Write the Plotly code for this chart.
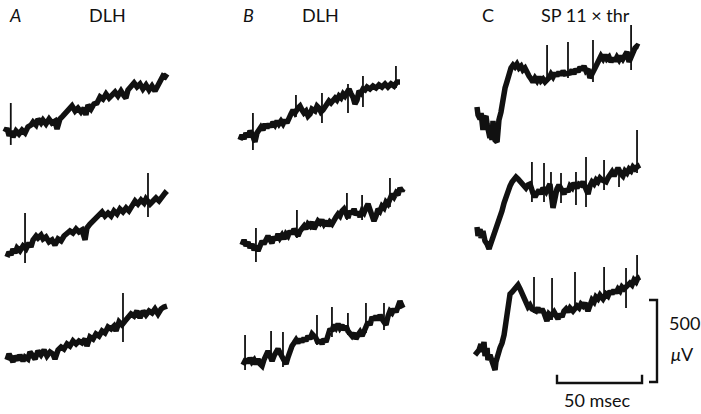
import plotly.graph_objects as go

# ---------------- data: time (ms from sweep start), potential (uV from sweep start level) ----------------
A1_t = [0, 1.2, 2.4, 3.5, 4.7, 6.5, 8.2, 10.0, 11.8, 13.5, 15.3, 16.5, 18.2, 19.4, 21.2, 22.3, 24.1, 25.9, 27.6, 29.4,
        30.6, 32.3, 34.1, 35.9, 37.6, 39.4, 41.2, 42.9, 44.7, 46.5, 47.6, 48.8, 50.6, 52.3, 54.1, 55.9, 57.6, 59.4, 61.2, 62.9,
        64.7, 66.4, 68.2, 70.0, 71.1, 72.3, 74.1, 75.9, 77.6, 79.4, 81.1, 82.9, 84.7, 86.4, 88.2, 90.0, 91.7, 92.9, 94.1, 95.3]
A1_v = [0, 24, -24, 6, -31, 6, -12, 12, -6, 31, 43, 61, 43, 79, 55, 73, 49, 79, 55, 67,
        18, 79, 98, 116, 134, 159, 128, 146, 122, 146, 104, 165, 140, 171, 177, 214, 201, 232, 207, 226,
        244, 220, 250, 220, 207, 256, 281, 299, 275, 293, 262, 287, 256, 281, 250, 293, 317, 342, 336, 354]
A1_spike_t = [3.4]
A1_spike_top = [177]
A1_spike_bot = [-79]

A2_t = [0, 1.2, 2.4, 3.5, 4.7, 5.9, 7.6, 9.4, 11.2, 12.9, 14.1, 15.3, 17.1, 18.2, 20.0, 21.2, 22.9, 24.7, 26.5, 28.2,
        30.0, 31.8, 33.5, 35.3, 37.0, 38.8, 40.6, 42.3, 44.1, 45.9, 47.0, 48.8, 50.6, 52.3, 54.1, 55.9, 57.6, 59.4, 61.2, 62.9,
        64.7, 66.4, 68.2, 70.0, 71.7, 73.5, 75.3, 77.0, 78.8, 80.6, 81.7, 84.1, 85.8, 87.6, 89.4, 91.1, 92.9, 94.1]
A2_v = [0, 31, 12, 49, 24, 55, 37, 67, 49, 85, 61, 104, 128, 116, 134, 110, 122, 92, 104, 73,
        110, 98, 128, 140, 159, 146, 171, 153, 165, 104, 177, 201, 220, 238, 262, 275, 250, 268, 250, 281,
        262, 293, 275, 299, 281, 311, 342, 323, 348, 329, 354, 323, 342, 360, 342, 372, 390, 378]
A2_spike_t = [10.6, 82.9]
A2_spike_top = [268, 512]
A2_spike_bot = [-37, 244]

A3_t = [0, 1.2, 2.4, 3.5, 4.7, 6.5, 7.6, 9.4, 10.6, 12.3, 13.5, 15.3, 16.5, 18.2, 20.0, 21.8, 23.5, 25.3, 27.0, 28.2,
        30.0, 31.8, 33.5, 35.3, 37.0, 38.8, 40.6, 42.3, 44.1, 45.9, 47.0, 48.8, 50.6, 52.3, 54.1, 55.9, 57.6, 59.4, 61.2, 62.9,
        64.1, 65.9, 67.6, 69.4, 71.1, 72.9, 74.7, 76.4, 78.2, 80.0, 81.7, 83.5, 85.3, 87.0, 88.8, 90.6, 92.3, 94.1]
A3_v = [0, 37, 12, -12, 24, 0, 31, -6, 18, 6, 49, 18, 6, 55, 31, 61, 24, 49, 37, 6,
        61, 79, 67, 98, 85, 116, 98, 116, 104, 128, 85, 140, 128, 159, 146, 177, 165, 201, 189, 207,
        177, 232, 214, 238, 256, 281, 268, 299, 256, 299, 275, 299, 287, 311, 281, 311, 323, 329]
A3_spike_t = [68.2]
A3_spike_top = [409]
A3_spike_bot = [110]

B1_t = [0, 1.2, 2.4, 3.5, 4.7, 5.9, 7.1, 8.8, 10.0, 11.2, 12.3, 13.5, 14.7, 15.9, 17.1, 18.2, 19.4, 20.6, 21.8, 22.9,
        24.1, 25.3, 26.5, 27.6, 28.8, 30.0, 31.2, 32.3, 34.1, 35.3, 36.5, 37.6, 38.8, 40.0, 41.2, 42.3, 44.1, 45.3, 46.5, 47.6,
        48.8, 50.0, 51.2, 52.3, 53.5, 54.7, 55.9, 57.0, 58.2, 59.4, 60.6, 61.7, 62.9, 64.1, 65.3, 66.4, 67.6, 68.8, 70.0, 71.1,
        72.3, 73.5, 74.7, 76.4, 78.2, 80.0, 81.7, 83.5, 85.3, 87.0, 88.8, 90.6, 92.3, 94.1]
B1_v = [0, 31, 6, 43, 18, 55, 37, -12, 43, 67, 79, 61, 98, 73, 98, 79, 110, 92, 116, 98,
        116, 98, 122, 104, 140, 159, 183, 165, 195, 207, 183, 165, 177, 146, 159, 189, 177, 207, 195, 171,
        183, 207, 220, 238, 226, 250, 256, 244, 268, 256, 281, 268, 299, 311, 281, 262, 220, 244, 299, 287,
        311, 305, 323, 311, 329, 317, 336, 323, 342, 323, 342, 329, 354, 354]
B1_spike_t = [7.6, 32.9, 48.2, 63.5, 72.3, 91.7]
B1_spike_top = [165, 275, 287, 342, 390, 451]
B1_spike_bot = [-61, 140, 104, 165, 201, 317]

B2_t = [0, 1.2, 2.4, 3.5, 4.7, 5.9, 7.1, 8.2, 9.4, 10.6, 11.8, 12.9, 14.1, 15.3, 16.5, 17.6, 18.8, 20.0, 21.2, 22.3,
        23.5, 24.7, 25.9, 27.0, 28.2, 29.4, 30.6, 31.8, 32.9, 34.1, 35.3, 36.5, 37.6, 38.8, 40.0, 41.2, 42.3, 43.5, 44.7, 45.9,
        47.0, 48.2, 49.4, 50.6, 51.7, 52.9, 54.1, 55.3, 56.5, 57.6, 58.8, 60.0, 61.2, 62.3, 63.5, 64.7, 65.9, 67.0, 68.2, 69.4,
        70.6, 71.7, 72.9, 74.1, 75.3, 76.4, 77.6, 78.8, 80.0, 81.1, 82.3, 83.5, 84.7, 85.8, 87.0, 88.2, 89.4, 90.6, 91.7, 92.9,
        94.1, 94.7]
B2_v = [0, 31, -6, 18, -18, 6, -31, -6, -37, 6, 24, 6, 43, 55, 31, 12, 49, 31, 67, 43,
        61, 37, 67, 55, 85, 67, 98, 73, 55, 85, 104, 116, 98, 128, 116, 140, 98, 116, 146, 134,
        153, 128, 146, 116, 140, 128, 159, 171, 189, 177, 207, 220, 195, 165, 207, 189, 220, 183, 201, 171,
        207, 195, 226, 250, 214, 189, 146, 177, 220, 207, 238, 226, 262, 250, 281, 311, 293, 317, 305, 348,
        329, 342]
B2_spike_t = [8.2, 32.3, 61.7, 70.6, 87.0]
B2_spike_top = [104, 214, 317, 305, 409]
B2_spike_bot = [-104, 43, 153, 153, 232]

B3_t = [0, 1.8, 2.9, 4.1, 5.3, 6.5, 7.6, 8.8, 10.0, 11.2, 12.3, 13.5, 14.7, 15.9, 17.1, 18.2, 19.4, 20.6, 21.8, 22.9,
        24.1, 25.3, 26.5, 27.6, 28.8, 30.0, 31.2, 32.3, 33.5, 34.7, 35.9, 37.0, 38.2, 39.4, 40.6, 41.7, 42.9, 44.1, 45.3, 46.5,
        47.6, 48.8, 50.0, 51.2, 52.3, 53.5, 54.7, 55.9, 57.0, 58.2, 59.4, 60.6, 61.7, 62.9, 64.1, 65.3, 66.4, 67.6, 68.8, 70.0,
        71.1, 72.3, 73.5, 74.7, 75.9, 77.0, 78.2, 79.4, 80.6, 81.7, 82.9, 84.1, 85.3, 86.4, 87.6, 88.8, 90.0, 91.1, 92.3, 93.5,
        94.1]
B3_v = [0, 37, 12, 43, 18, 31, 6, 37, 6, -6, 31, 61, 85, 55, 24, 55, 79, 98, 73, 49,
        18, 6, 49, 85, 116, 134, 153, 134, 159, 140, 165, 146, 177, 159, 189, 177, 165, 134, 153, 128,
        159, 140, 189, 220, 207, 244, 226, 250, 226, 244, 214, 238, 207, 195, 177, 195, 159, 183, 201, 177,
        207, 244, 262, 244, 293, 275, 299, 275, 305, 281, 256, 244, 299, 329, 317, 342, 323, 366, 390, 360,
        348]
B3_spike_t = [1.2, 16.5, 23.5, 43.5, 52.3, 61.7, 72.3, 82.9]
B3_spike_top = [183, 207, 201, 305, 354, 317, 378, 378]
B3_spike_bot = [-31, 18, -12, 122, 171, 183, 195, 214]

C1_t = [0, 0.6, 1.8, 2.4, 2.9, 3.5, 4.1, 5.3, 5.9, 6.5, 7.6, 8.2, 8.8, 9.4, 10.0, 10.6, 11.8, 12.3, 12.9, 14.1,
        15.3, 16.5, 17.6, 18.8, 20.0, 21.2, 22.3, 23.5, 24.7, 25.9, 27.0, 28.2, 29.4, 30.6, 31.8, 32.9, 34.1, 35.3, 36.5, 37.6,
        38.8, 40.0, 42.3, 43.5, 44.7, 45.9, 47.0, 48.2, 49.4, 50.6, 51.7, 54.7, 55.9, 57.0, 58.2, 59.4, 60.6, 61.7, 62.9, 64.1,
        65.3, 66.4, 69.4, 70.6, 71.7, 72.9, 74.1, 75.3, 76.4, 77.6, 78.8, 80.0, 81.1, 82.3, 83.5, 84.7, 85.8, 87.0, 88.2, 89.4,
        91.7, 92.9, 94.1, 95.3]
C1_v = [0, -49, -73, -37, -85, -140, -73, -55, -104, -159, -189, -128, -201, -85, -146, -201, -214, -140, -79, -31,
        73, 116, 153, 201, 238, 256, 244, 262, 238, 250, 226, 238, 207, 189, 171, 153, 177, 159, 183, 159,
        171, 153, 177, 201, 183, 207, 189, 214, 195, 220, 201, 207, 226, 201, 232, 214, 244, 226, 250, 220,
        232, 177, 238, 262, 287, 311, 293, 317, 293, 305, 275, 299, 281, 305, 287, 311, 293, 323, 336, 275,
        348, 360, 372, 366]
C1_spike_t = [41.2, 53.5, 68.2, 90.6]
C1_spike_top = [378, 397, 409, 500]
C1_spike_bot = [146, 177, 153, 226]

C2_t = [0, 0.6, 1.8, 2.4, 3.5, 4.7, 5.9, 7.1, 7.6, 8.8, 10.0, 11.2, 12.3, 13.5, 14.7, 15.9, 17.1, 18.2, 19.4, 20.6,
        21.8, 22.9, 24.1, 25.3, 26.5, 27.6, 28.8, 30.0, 31.2, 32.9, 34.1, 35.3, 36.5, 37.6, 38.8, 40.6, 41.7, 42.9, 44.7, 45.9,
        47.0, 48.2, 50.0, 51.2, 52.3, 53.5, 54.7, 55.9, 57.0, 58.8, 60.0, 61.2, 62.3, 65.3, 66.4, 67.6, 68.8, 70.0, 71.1, 72.3,
        73.5, 75.9, 77.0, 78.2, 79.4, 80.6, 81.7, 82.9, 84.7, 85.8, 87.0, 88.2, 89.4, 90.6, 91.7, 92.9, 94.7, 95.8]
C2_v = [0, -55, -12, -67, -24, -85, -104, -134, -116, -79, -55, -24, 6, 49, 98, 146, 189, 226, 250, 275,
        287, 305, 293, 281, 268, 256, 238, 256, 262, 207, 183, 207, 226, 201, 238, 214, 244, 262, 116, 195,
        232, 256, 226, 201, 232, 214, 250, 238, 268, 238, 262, 256, 275, 201, 250, 275, 262, 287, 275, 299,
        287, 275, 299, 317, 336, 311, 342, 360, 323, 311, 342, 329, 354, 342, 366, 354, 372, 378]
C2_spike_t = [32.3, 39.4, 43.5, 49.4, 58.2, 64.1, 74.7, 83.5, 94.1]
C2_spike_top = [397, 390, 336, 329, 336, 427, 409, 366, 592]
C2_spike_bot = [153, 153, 122, 146, 134, 122, 226, 244, 329]

C3_t = [0, 2.4, 3.5, 4.1, 5.3, 5.9, 7.1, 7.6, 8.8, 10.0, 10.6, 11.8, 12.3, 13.5, 14.7, 15.9, 17.1, 18.2, 19.4, 20.6,
        21.8, 22.9, 24.1, 25.3, 26.5, 27.6, 28.8, 30.0, 31.2, 32.3, 33.5, 35.9, 37.0, 38.2, 39.4, 40.6, 42.3, 43.5, 44.7, 46.5,
        47.6, 48.8, 50.0, 51.2, 52.3, 53.5, 54.7, 55.9, 57.6, 60.0, 61.2, 62.3, 63.5, 64.7, 66.4, 67.6, 68.8, 70.0, 71.1, 72.3,
        73.5, 75.3, 77.0, 78.2, 79.4, 80.6, 81.7, 82.9, 84.1, 85.3, 86.4, 87.6, 90.0, 91.1, 92.3, 93.5, 94.7, 95.8, 97.0]
C3_v = [0, 31, 67, 18, 79, -6, 43, -31, 0, -49, -73, -92, -43, 12, 43, 73, 122, 201, 305, 372,
        384, 397, 415, 427, 403, 378, 348, 317, 293, 305, 281, 268, 287, 262, 281, 256, 207, 250, 238, 262,
        238, 220, 250, 232, 268, 281, 262, 287, 268, 299, 287, 311, 299, 317, 268, 317, 336, 323, 354, 342,
        366, 342, 372, 360, 390, 372, 397, 378, 403, 390, 415, 403, 421, 439, 427, 458, 445, 470, 476]
C3_spike_t = [34.7, 45.3, 58.8, 75.9, 88.8, 95.3]
C3_spike_top = [476, 470, 506, 537, 531, 610]
C3_spike_bot = [256, 214, 275, 354, 287, 427]

panel_labels = ["A", "B", "C"]
panel_titles = ["DLH", "DLH", "SP 11 \u00d7 thr"]
scale_time_ms = 50
scale_volt_uV = 500

# ---------------- layout constants (placement only) ----------------
W, H = 701, 414
MS_PER_PX = 0.588
UV_PER_PX = 6.1
X_RANGE = [0, W * MS_PER_PX]
Y_RANGE = [0, H * UV_PER_PX]


def px_t(px):
    return px * MS_PER_PX


def px_v(py):
    return (H - py) * UV_PER_PX


# sweep origin (pixel position of the first sample) for each trace
sweeps = [
    (A1_t, A1_v, A1_spike_t, A1_spike_top, A1_spike_bot, 5, 132),
    (A2_t, A2_v, A2_spike_t, A2_spike_top, A2_spike_bot, 7, 257),
    (A3_t, A3_v, A3_spike_t, A3_spike_top, A3_spike_bot, 7, 360),
    (B1_t, B1_v, B1_spike_t, B1_spike_top, B1_spike_bot, 240, 140),
    (B2_t, B2_v, B2_spike_t, B2_spike_top, B2_spike_bot, 242, 245),
    (B3_t, B3_v, B3_spike_t, B3_spike_top, B3_spike_bot, 243, 365),
    (C1_t, C1_v, C1_spike_t, C1_spike_top, C1_spike_bot, 477, 107),
    (C2_t, C2_v, C2_spike_t, C2_spike_top, C2_spike_bot, 477, 227),
    (C3_t, C3_v, C3_spike_t, C3_spike_top, C3_spike_bot, 475, 355),
]

fig = go.Figure()
INK = "#111111"

for t, v, st, stop, sbot, ox, oy in sweeps:
    t0, v0 = px_t(ox), px_v(oy)
    fig.add_trace(go.Scatter(
        x=[t0 + a for a in t], y=[v0 + b for b in v], mode="lines",
        line=dict(color=INK, width=5.5, shape="linear"), hoverinfo="skip", showlegend=False))
    sx, sy = [], []
    for a, top, bot in zip(st, stop, sbot):
        sx += [t0 + a, t0 + a, None]
        sy += [v0 + bot, v0 + top, None]
    fig.add_trace(go.Scatter(
        x=sx, y=sy, mode="lines", line=dict(color=INK, width=1.8),
        hoverinfo="skip", showlegend=False))

# calibration bars
vx = px_t(657)
vb = px_v(382)
fig.add_trace(go.Scatter(
    x=[px_t(649), vx, vx, px_t(649)],
    y=[vb + scale_volt_uV, vb + scale_volt_uV, vb, vb],
    mode="lines", line=dict(color=INK, width=2.4), hoverinfo="skip", showlegend=False))
hx = px_t(557)
hy = px_v(383)
fig.add_trace(go.Scatter(
    x=[hx, hx, hx + scale_time_ms, hx + scale_time_ms],
    y=[hy + 50, hy, hy, hy + 50],
    mode="lines", line=dict(color=INK, width=2.4), hoverinfo="skip", showlegend=False))

FONT = "Lato, 'Open Sans', 'DejaVu Sans', sans-serif"


def label(text, px, py, size=18, italic=False):
    fig.add_annotation(
        x=px / W, y=1 - py / H, xref="paper", yref="paper", text=text,
        showarrow=False, xanchor="center", yanchor="middle",
        font=dict(family=FONT, size=size, color=INK, style="italic" if italic else "normal"))


label(panel_labels[0], 15, 15, italic=True)
label(panel_titles[0], 108, 15)
label(panel_labels[1], 248, 15, italic=True)
label(panel_titles[1], 320, 15)
label(panel_labels[2], 488, 15)
label(panel_titles[2], 585, 15)
label(str(scale_volt_uV), 684, 323)
label("<i>\u03bc</i>V", 682, 354)
label(f"{scale_time_ms} msec", 597, 400)

fig.update_layout(
    width=W, height=H, margin=dict(l=0, r=0, t=0, b=0),
    paper_bgcolor="white", plot_bgcolor="white",
    xaxis=dict(range=X_RANGE, visible=False, fixedrange=True),
    yaxis=dict(range=Y_RANGE, visible=False, fixedrange=True),
)

fig.write_html("out.html", config={"displayModeBar": False, "staticPlot": True},
               post_script="document.body.style.margin='0px';document.body.style.overflow='hidden';")
